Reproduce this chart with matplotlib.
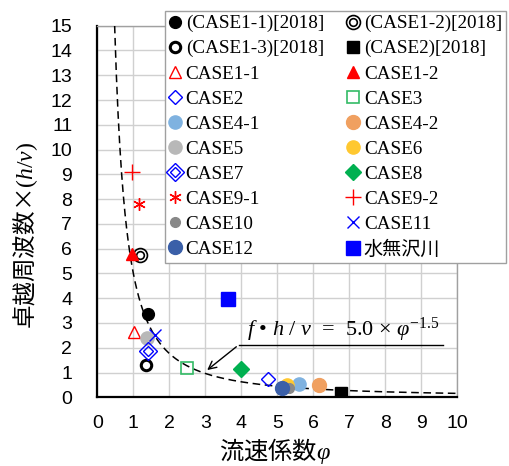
import matplotlib
matplotlib.use('Agg')
import matplotlib.pyplot as plt
from matplotlib import font_manager
import numpy as np

# data
labels = ['(CASE1-1)[2018]', '(CASE1-2)[2018]', '(CASE1-3)[2018]', '(CASE2)[2018]',
          'CASE1-1', 'CASE1-2', 'CASE2', 'CASE3', 'CASE4-1', 'CASE4-2',
          'CASE5', 'CASE6', 'CASE7', 'CASE8', 'CASE9-1', 'CASE9-2',
          'CASE10', 'CASE11', 'CASE12', '水無沢川']
phi = [1.42, 1.19, 1.34, 6.76,
       1.03, 0.95, 4.73, 2.50, 5.61, 6.16,
       1.37, 5.26, 1.42, 3.99, 1.17, 0.95,
       5.33, 1.60, 5.12, 3.62]
fhv = [3.35, 5.74, 1.30, 0.19,
       2.65, 5.77, 0.73, 1.17, 0.54, 0.50,
       2.38, 0.50, 1.87, 1.14, 7.79, 9.11,
       0.36, 2.51, 0.36, 3.97]

# fit curve f*h/v = a * phi^b
coef_a = 5.0
coef_b = -1.5

plt.rcParams['mathtext.fontset'] = 'custom'
plt.rcParams['mathtext.rm'] = 'Liberation Serif'
plt.rcParams['mathtext.it'] = 'Liberation Serif:italic'

names = [f.name for f in font_manager.fontManager.ttflist]
tick_font = 'Liberation Sans Narrow' if 'Liberation Sans Narrow' in names else 'Liberation Sans'

fig = plt.figure(figsize=(5.09, 4.66), dpi=100)
ax = fig.add_axes([0.1912, 0.1474, 0.7076, 0.7974])

red = '#ff0000'
blue = '#0000ff'
styles = [
    dict(marker='o', ms=8.5, mfc='black', mec='black'),
    None,  # double circle
    dict(marker='o', ms=7.5, mfc='none', mec='black', mew=2.2),
    dict(marker='s', ms=8.5, mfc='black', mec='black'),
    dict(marker='^', ms=9, mfc='none', mec=red, mew=1.0),
    dict(marker='^', ms=9, mfc=red, mec=red),
    dict(marker='D', ms=7, mfc='none', mec=blue, mew=1.0),
    dict(marker='s', ms=9, mfc='none', mec='#33bb66', mew=1.2),
    dict(marker='o', ms=9.5, mfc='#7fb2e0', mec='#7fb2e0'),
    dict(marker='o', ms=10, mfc='#f0a060', mec='#f0a060'),
    dict(marker='o', ms=9.5, mfc='#b8b8b8', mec='#b8b8b8'),
    dict(marker='o', ms=9.5, mfc='#ffc830', mec='#ffc830'),
    None,  # double diamond
    dict(marker='D', ms=8.5, mfc='#00b050', mec='#00b050'),
    dict(marker=(6, 2, 0), ms=9, mec=red, mew=1.0),
    dict(marker='+', ms=11, mec=red, mew=1.0),
    dict(marker='o', ms=7, mfc='#888888', mec='#888888'),
    dict(marker='x', ms=8, mec=blue, mew=1.0),
    dict(marker='o', ms=10, mfc='#3a5fa8', mec='#3a5fa8'),
    dict(marker='s', ms=10, mfc=blue, mec=blue),
]

handles = []
for i, lab in enumerate(labels):
    if i == 1:
        h1, = ax.plot(phi[i], fhv[i], ls='none', marker='o', ms=10, mfc='none', mec='black', mew=1.2, zorder=4)
        h2, = ax.plot(phi[i], fhv[i], ls='none', marker='o', ms=5.5, mfc='none', mec='black', mew=1.2, zorder=4)
        handles.append((h1, h2))
    elif i == 12:
        h1, = ax.plot(phi[i], fhv[i], ls='none', marker='D', ms=9, mfc='none', mec=blue, mew=1.0, zorder=4)
        h2, = ax.plot(phi[i], fhv[i], ls='none', marker='D', ms=5, mfc='none', mec=blue, mew=1.0, zorder=4)
        handles.append((h1, h2))
    else:
        h, = ax.plot(phi[i], fhv[i], ls='none', zorder=4, **styles[i])
        handles.append(h)

xs = np.linspace((15 / coef_a) ** (1 / coef_b), 10, 400)
ax.plot(xs, coef_a * xs ** coef_b, color='black', ls=(0, (5, 3)), lw=1.1, zorder=3)

ax.set_xlim(0, 10)
ax.set_ylim(0, 15)
ax.set_xticks(range(0, 11))
ax.set_yticks(range(0, 16))
ax.grid(True, color='#d0d0d0', lw=1.0)
ax.set_axisbelow(True)
ax.tick_params(length=0, pad=18, labelsize=14)
ax.tick_params(axis='x', pad=13)
for t in ax.get_xticklabels() + ax.get_yticklabels():
    t.set_fontfamily(tick_font)
for s in ['left', 'bottom']:
    ax.spines[s].set_linewidth(1.6)
    ax.spines[s].set_color('black')
for s in ['top', 'right']:
    ax.spines[s].set_linewidth(1.0)
    ax.spines[s].set_color('#a0a0a0')

ax.set_xlabel('流速係数$\\varphi$', family=['Noto Sans CJK JP'], fontsize=17.5, va='center')
ax.xaxis.set_label_coords(0.494, -0.145)
ax.set_ylabel('卓越周波数×$(h/v)$', family=['Noto Sans CJK JP'], fontsize=17, va='center')
ax.yaxis.set_label_coords(-0.198, 0.437)

# annotation for the fit curve
ax.text(4.15, 2.5, '$f$ • $h$ / $v$  =  5.0 × $\\varphi^{\\mathrm{-1.5}}$',
        family=['Liberation Serif'], fontsize=16, zorder=5)
ax.plot([3.92, 9.6], [2.11, 2.11], color='black', lw=1.0, zorder=5)
ax.annotate('', xy=(2.99, 1.03), xytext=(3.92, 2.11),
            arrowprops=dict(arrowstyle='->', color='black', lw=1.0, mutation_scale=14), zorder=5)

# legend: two columns filled row by row
order = list(range(0, 20, 2)) + list(range(1, 20, 2))
leg = ax.legend([handles[k] for k in order], [labels[k] for k in order],
                ncol=2, loc='upper left', bbox_to_anchor=(165 / 509, 1 - 11 / 466),
                bbox_transform=fig.transFigure, frameon=True, fancybox=False,
                edgecolor='#a0a0a0', framealpha=1, handlelength=0.6, handletextpad=0.28,
                columnspacing=1.2, labelspacing=0.4, borderpad=0.2, borderaxespad=0,
                prop={'family': ['Liberation Serif', 'Noto Sans CJK JP'], 'size': 13.8})
leg.get_frame().set_linewidth(1.0)
leg.set_zorder(6)

fig.savefig('out.png', dpi=100)
